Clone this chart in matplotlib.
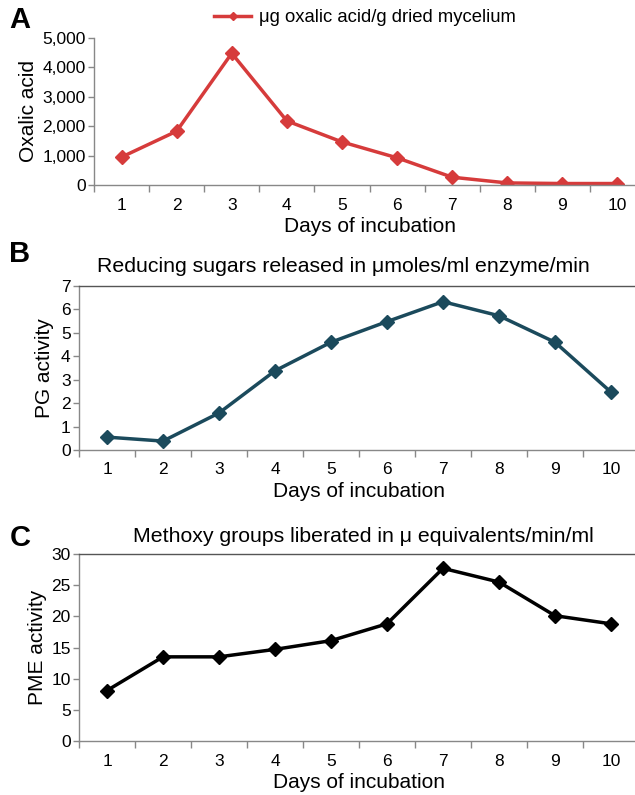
import matplotlib
matplotlib.use("Agg")
import matplotlib.pyplot as plt
from matplotlib.ticker import FixedLocator, FuncFormatter

plt.rcParams['font.family'] = ['Liberation Sans', 'DejaVu Sans']

days = [1, 2, 3, 4, 5, 6, 7, 8, 9, 10]
oxalic = [950, 1830, 4480, 2180, 1465, 925, 265, 70, 50, 50]
pg_activity = [0.55, 0.38, 1.58, 3.38, 4.6, 5.48, 6.33, 5.73, 4.6, 2.47]
pme_activity = [8.1, 13.5, 13.5, 14.7, 16.1, 18.8, 27.7, 25.5, 20.1, 18.8]

W, H = 635, 795
fig = plt.figure(figsize=(W / 100, H / 100), dpi=100)


def ax_px(l, r, t, b):
    return fig.add_axes([l / W, 1 - b / H, (r - l) / W, (b - t) / H])


def style(ax, ylim, yticks, top_spine):
    ax.set_xlim(0.5, 10.5)
    ax.set_ylim(*ylim)
    ax.set_xticks(days)
    ax.set_xticklabels([str(d) for d in days])
    ax.xaxis.set_minor_locator(FixedLocator([d + 0.5 for d in range(0, 11)]))
    ax.tick_params(axis='x', which='major', length=0, pad=9, labelsize=12.5)
    ax.tick_params(axis='x', which='minor', length=5, width=1, color='#888888', direction='out')
    ax.set_yticks(yticks)
    ax.tick_params(axis='y', which='major', length=4, width=1, color='#888888', pad=2, labelsize=12.5)
    for s in ['left', 'bottom']:
        ax.spines[s].set_color('#888888')
        ax.spines[s].set_linewidth(1)
    ax.spines['right'].set_visible(False)
    if top_spine:
        ax.spines['top'].set_color('#555555')
        ax.spines['top'].set_linewidth(1)
    else:
        ax.spines['top'].set_visible(False)
    ax.set_xlabel('Days of incubation', fontsize=15, labelpad=3)


# Panel A
axA = ax_px(94, 645, 38, 185)
axA.plot(days, oxalic, color='#d63b3b', lw=2.5, marker='D', ms=7.5,
         label='\u03bcg oxalic acid/g dried mycelium')
style(axA, (0, 5000), [0, 1000, 2000, 3000, 4000, 5000], False)
axA.yaxis.set_major_formatter(FuncFormatter(lambda v, p: f'{int(v):,}'))
axA.set_ylabel('Oxalic acid', fontsize=15, labelpad=3)
axA.legend(loc='center', bbox_to_anchor=(365 / W, 1 - 18 / H), bbox_transform=fig.transFigure,
           frameon=False, fontsize=13.3, handlelength=2.0, handletextpad=0.4, markerscale=0.6)

# Panel B
axB = ax_px(79, 639, 286, 450)
axB.plot(days, pg_activity, color='#1b4a5c', lw=2.5, marker='D', ms=7.5)
style(axB, (0, 7), list(range(0, 8)), True)
axB.set_ylabel('PG activity', fontsize=15, labelpad=5)
fig.text(343 / W, 1 - 267 / H, 'Reducing sugars released in \u03bcmoles/ml enzyme/min',
         ha='center', va='center', fontsize=15.3)

# Panel C
axC = ax_px(79, 639, 554, 741)
axC.plot(days, pme_activity, color='#000000', lw=2.5, marker='D', ms=7.5)
style(axC, (0, 30), [0, 5, 10, 15, 20, 25, 30], True)
axC.set_ylabel('PME activity', fontsize=15, labelpad=3)
fig.text(363 / W, 1 - 536 / H, 'Methoxy groups liberated in \u03bc equivalents/min/ml',
         ha='center', va='center', fontsize=15.3)

# Panel letters
for letter, y in [('A', 20), ('B', 254), ('C', 538)]:
    fig.text(20 / W, 1 - y / H, letter, ha='center', va='center', fontsize=21, fontweight='bold')

fig.savefig('out.png', dpi=100)
